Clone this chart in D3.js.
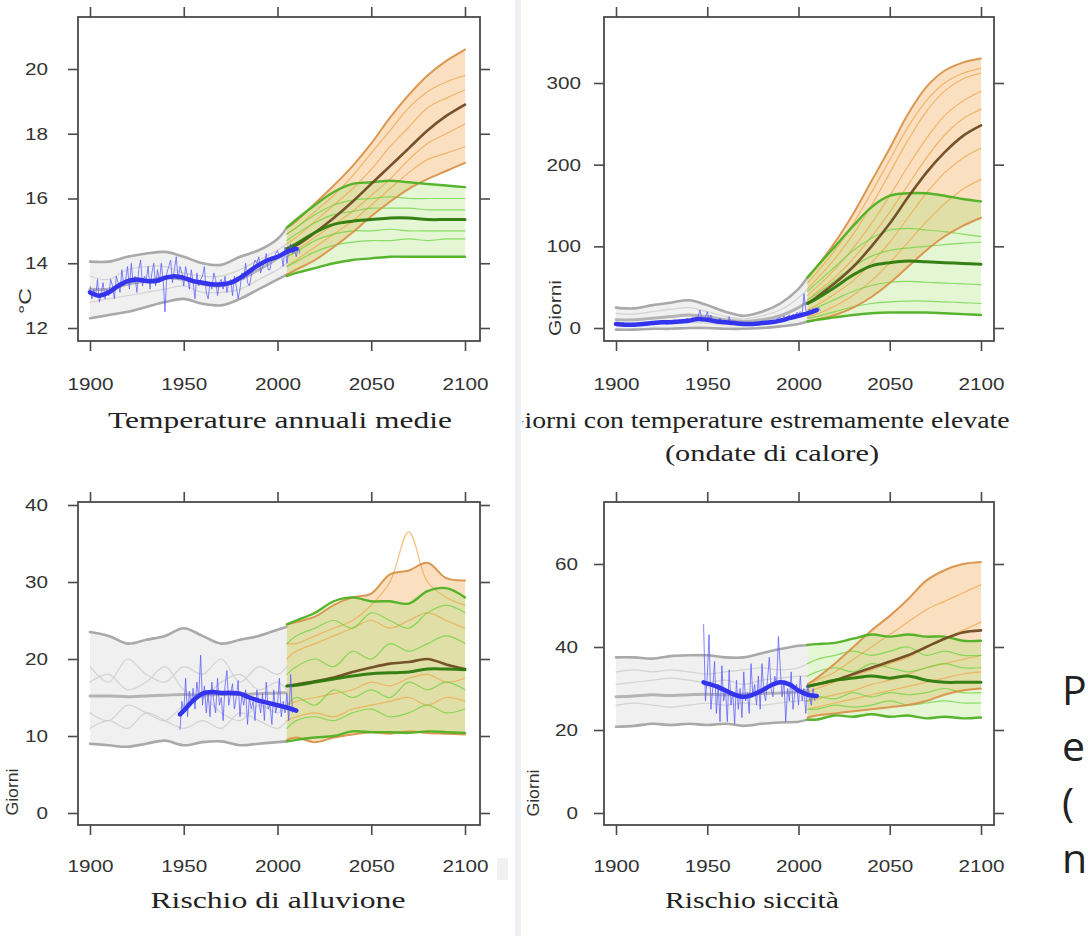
<!DOCTYPE html>
<html>
<head>
<meta charset="utf-8">
<script src="https://cdn.jsdelivr.net/npm/d3@7"></script>
<style>
  html, body { margin: 0; padding: 0; background: #fff; }
  svg { display: block; }
  .tick text { font-family: "Liberation Sans", Arial, sans-serif; fill: #333; }
  .title { font-family: "Liberation Serif", "Times New Roman", serif; fill: #222; }
</style>
</head>
<body>
<svg id="chart" width="1088" height="936"></svg>
<script>
// Shared year grids
const histYears = [1900, 1910, 1920, 1930, 1940, 1950, 1960, 1970, 1980, 1990, 2000, 2005];
const projYears = [2005, 2010, 2020, 2030, 2040, 2050, 2060, 2070, 2080, 2090, 2100];
const smoothYears = [1900, 1905, 1910, 1915, 1920, 1925, 1930, 1935, 1940, 1945, 1950, 1955,
                     1960, 1965, 1970, 1975, 1980, 1985, 1990, 1995, 2000, 2005, 2010];
const smoothYearsLate = [1948, 1950, 1955, 1960, 1965, 1970, 1975, 1980, 1985, 1990, 1995, 2000, 2005, 2010];
const xTicks = [1900, 1950, 2000, 2050, 2100];

// ---- Panel 1: Temperature annuali medie (°C)
const tempGrayHi = [14.05, 14.05, 14.2, 14.3, 14.35, 14.2, 14.0, 13.95, 14.2, 14.4, 14.75, 15.1];
const tempGrayLo = [12.3, 12.4, 12.5, 12.65, 12.8, 12.9, 12.75, 12.7, 12.9, 13.2, 13.5, 13.65];
const tempGrayMean = [13.2, 13.2, 13.35, 13.45, 13.55, 13.5, 13.35, 13.3, 13.5, 13.8, 14.15, 14.4];
const tempGrayMembers = [
  [13.6, 13.5, 13.8, 13.9, 13.9, 13.7, 13.6, 13.6, 13.8, 14.1, 14.4, 14.6],
  [12.8, 12.9, 13.0, 13.1, 13.2, 13.3, 13.1, 13.1, 13.2, 13.5, 13.8, 14.0]
];
const tempObsStart = 1900;
const tempObs = [
  13.3, 12.9, 13.2, 13.0, 13.5, 12.8, 13.1, 13.4, 12.9, 13.2,
  13.0, 13.5, 13.3, 12.9, 13.6, 13.4, 13.1, 13.8, 13.3, 13.5,
  13.9, 13.2, 14.0, 13.4, 13.6, 13.1, 13.8, 14.1, 13.3, 13.6,
  13.5, 13.9, 13.2, 13.7, 14.0, 13.3, 13.8, 13.4, 14.0, 13.5,
  12.5, 13.7, 13.9, 14.1, 13.4, 13.8, 14.2, 13.5, 13.9, 13.7,
  13.3, 13.9, 13.6, 13.2, 13.8, 13.4, 12.9, 13.7, 13.3, 13.5,
  13.6, 13.9, 13.1, 12.9, 13.4, 13.2, 13.7, 13.5, 13.0, 13.4,
  13.5, 13.2, 13.6, 13.1, 13.4, 13.5, 13.0, 13.6, 13.3, 12.9,
  13.2, 13.7, 13.5, 14.0, 13.4, 13.3, 13.6, 13.9, 14.1, 14.0,
  14.2, 13.7, 13.9, 14.0, 14.3, 13.8, 13.8, 14.2, 14.1, 14.3,
  14.4, 14.2, 14.3, 13.9, 14.5, 14.0, 14.4, 14.6, 14.3, 14.4, 14.2, 14.5, 14.3
];
const tempObsSmooth = [13.1, 13.0, 13.1, 13.3, 13.45, 13.5, 13.45, 13.45, 13.55, 13.6, 13.55, 13.45,
                       13.4, 13.35, 13.35, 13.4, 13.55, 13.75, 13.95, 14.1, 14.2, 14.35, 14.45];
const tempOrangeHi = [15.1, 15.3, 15.85, 16.4, 17.0, 17.7, 18.5, 19.2, 19.8, 20.25, 20.6];
const tempOrangeLo = [13.65, 13.8, 14.1, 14.5, 14.95, 15.45, 15.9, 16.3, 16.6, 16.85, 17.1];
const tempOrangeMean = [14.45, 14.55, 14.95, 15.4, 15.9, 16.45, 17.0, 17.55, 18.1, 18.55, 18.9];
const tempOrangeMembers = [
  [14.9, 15.1, 15.6, 16.1, 16.7, 17.4, 18.1, 18.8, 19.3, 19.6, 19.8],
  [14.6, 14.8, 15.3, 15.8, 16.3, 16.9, 17.6, 18.2, 18.8, 19.1, 19.35],
  [14.2, 14.4, 14.8, 15.2, 15.6, 16.1, 16.6, 17.2, 17.7, 18.0, 18.3],
  [13.9, 14.1, 14.5, 14.9, 15.3, 15.8, 16.3, 16.8, 17.2, 17.4, 17.6]
];
const tempGreenHi = [15.1, 15.35, 15.8, 16.2, 16.45, 16.5, 16.55, 16.5, 16.45, 16.4, 16.35];
const tempGreenLo = [13.6, 13.7, 13.85, 14.0, 14.1, 14.15, 14.2, 14.2, 14.2, 14.2, 14.2];
const tempGreenMean = [14.45, 14.6, 14.95, 15.2, 15.3, 15.35, 15.4, 15.4, 15.35, 15.35, 15.35];
const tempGreenMembers = [
  [14.9, 15.1, 15.5, 15.8, 15.95, 16.0, 16.05, 16.0, 16.0, 16.0, 16.0],
  [14.7, 14.9, 15.25, 15.5, 15.6, 15.7, 15.7, 15.7, 15.65, 15.65, 15.65],
  [14.2, 14.35, 14.7, 14.9, 15.0, 15.0, 15.05, 15.0, 15.0, 15.0, 15.0],
  [13.9, 14.05, 14.35, 14.55, 14.65, 14.7, 14.7, 14.75, 14.7, 14.75, 14.75]
];

// ---- Panel 2: Giorni con temperature estremamente elevate
const heatGrayHi = [25, 24, 28, 31, 34, 28, 20, 15, 20, 30, 48, 62];
const heatGrayLo = [-2, -2, -1, -1, 0, 0, -1, -1, 0, 2, 5, 8];
const heatGrayMean = [10, 10, 12, 14, 16, 14, 10, 8, 10, 15, 25, 32];
const heatGrayMembers = [
  [18, 17, 20, 23, 25, 20, 14, 11, 15, 22, 37, 48],
  [4, 4, 5, 6, 7, 6, 4, 3, 5, 8, 14, 18]
];
const heatObsStart = 1900;
const heatObs = [
  6, 3, 5, 4, 7, 2, 5, 4, 3, 6,
  4, 5, 3, 6, 4, 5, 7, 3, 5, 6,
  5, 7, 4, 6, 8, 5, 6, 9, 4, 7,
  8, 6, 10, 7, 9, 8, 11, 7, 9, 12,
  10, 8, 13, 9, 11, 14, 22, 12, 9, 13,
  20, 10, 16, 8, 11, 9, 7, 12, 6, 9,
  7, 5, 14, 6, 4, 8, 5, 6, 4, 7,
  5, 4, 6, 3, 5, 7, 4, 6, 5, 8,
  6, 5, 8, 7, 9, 6, 10, 8, 11, 12,
  13, 10, 15, 12, 14, 16, 13, 17, 15, 19,
  18, 20, 17, 42, 22, 19, 23, 20, 24, 21, 22, 25, 21
];
const heatObsSmooth = [5, 4, 4, 5, 6, 7, 7, 8, 9, 11, 10, 8, 7, 6, 5, 5, 6, 7, 9, 12, 15, 18, 22];
const heatOrangeHi = [62, 75, 105, 140, 180, 220, 262, 295, 315, 325, 330];
const heatOrangeLo = [8, 10, 16, 25, 38, 55, 75, 95, 112, 125, 135];
const heatOrangeMean = [30, 38, 55, 75, 100, 128, 160, 190, 215, 235, 248];
const heatOrangeMembers = [
  [55, 68, 95, 128, 166, 206, 246, 278, 300, 312, 318],
  [48, 60, 85, 115, 150, 190, 230, 265, 290, 305, 312],
  [40, 50, 72, 98, 128, 162, 198, 232, 260, 278, 290],
  [34, 44, 62, 85, 112, 142, 175, 208, 236, 256, 268],
  [22, 28, 42, 58, 80, 105, 135, 165, 190, 208, 220],
  [14, 17, 27, 40, 58, 80, 105, 130, 152, 170, 182]
];
const heatGreenHi = [62, 75, 100, 125, 148, 162, 165, 165, 162, 158, 155];
const heatGreenLo = [8, 10, 13, 16, 18, 19, 19, 19, 18, 17, 16];
const heatGreenMean = [30, 36, 50, 65, 76, 80, 82, 81, 80, 79, 78];
const heatGreenMembers = [
  [45, 55, 75, 95, 110, 120, 122, 120, 118, 115, 112],
  [35, 42, 58, 75, 88, 95, 98, 100, 102, 104, 105],
  [20, 25, 35, 45, 52, 56, 57, 56, 55, 54, 53],
  [12, 14, 20, 26, 30, 32, 33, 33, 32, 31, 30]
];

// ---- Panel 3: Rischio di alluvione (giorni)
const floodGrayHi = [23.5, 23, 22, 22.5, 23, 24, 23, 22, 22.5, 23, 23.8, 24.2];
const floodGrayLo = [9, 8.8, 8.6, 9, 9.4, 8.8, 9.2, 9.3, 8.8, 9, 9.2, 9.3];
const floodGrayMean = [15.2, 15.2, 15.1, 15.2, 15.3, 15.4, 15.3, 15.4, 15.4, 15.5, 15.6, 15.6];
const floodGrayMembers = [
  [17, 18, 16, 17, 19, 16, 15, 17, 18, 16, 17, 16],
  [13, 12, 14, 13, 12, 14, 15, 13, 12, 14, 13, 14],
  [19, 17, 20, 18, 17, 19, 18, 20, 17, 19, 18, 19],
  [11, 12, 11, 13, 12, 11, 12, 11, 13, 12, 11, 12]
];
const floodObsStart = 1948;
const floodObs = [
  10.8, 14.5, 13.0, 17.5, 12.5, 15.8, 14.0, 16.2, 13.5, 17.0,
  15.0, 20.5, 14.0, 16.5, 13.0, 15.5, 12.5, 17.0, 14.5, 13.0,
  17.5, 14.0, 15.0, 12.0, 16.5, 18.5, 14.0, 15.5, 16.8, 13.5,
  15.0, 17.2, 12.5, 15.5, 14.0, 16.0, 11.5, 15.0, 13.5, 14.5,
  12.0, 16.0, 14.5, 13.0, 15.5, 12.0, 17.0, 13.5, 14.0, 11.5,
  16.0, 13.0, 14.0, 17.5, 12.5, 14.5, 13.0, 15.5, 12.0, 18.0, 13.0
];
const floodObsSmooth = [12.8, 13.3, 14.6, 15.5, 15.7, 15.6, 15.6, 15.5, 15.0, 14.6, 14.3, 14.0, 13.7, 13.3];
const floodOrangeHi = [24.5, 24.8, 25.5, 27, 28, 28.5, 31, 31.5, 32.5, 30.5, 30.2];
const floodOrangeLo = [9.5, 9.8, 9.2, 9.8, 10.2, 10.5, 10.3, 10.6, 10.4, 10.3, 10.2];
const floodOrangeMean = [16.5, 16.7, 17.1, 17.6, 18.3, 18.9, 19.4, 19.6, 20.0, 19.3, 18.7];
const floodOrangeMembers = [
  [20, 21, 22, 23, 24, 25, 24, 25, 26, 25, 24],
  [14, 14.5, 15, 15.5, 16, 17, 16.5, 17.5, 18, 17, 17.5],
  [12, 12.5, 13, 12.5, 13.5, 14, 14.5, 15, 14, 15, 14.5],
  [22, 22, 23, 24, 25, 27, 30, 36.5, 30, 28, 27]
];
const floodGreenHi = [24.5, 25, 26, 27.5, 28, 27.5, 27.5, 27.2, 28.8, 29.2, 28];
const floodGreenLo = [9.3, 9.5, 9.8, 10.0, 10.6, 10.5, 10.5, 10.4, 10.6, 10.5, 10.4];
const floodGreenMean = [16.5, 16.6, 17, 17.4, 17.8, 18.1, 18.2, 18.3, 18.7, 18.7, 18.6];
const floodGreenMembers = [
  [22, 23, 24, 25, 24, 26, 25, 24, 26, 27, 26],
  [18, 19, 20, 19, 21, 20, 22, 21, 22, 23, 22],
  [14, 15, 14, 16, 15, 16, 15, 17, 16, 17, 16],
  [11, 12, 12.5, 12, 13, 13.5, 12.5, 13, 14, 13, 13.5]
];

// ---- Panel 4: Rischio siccità (giorni)
const dryGrayHi = [37.5, 37.5, 37.2, 37.8, 38, 38, 37.5, 37.5, 38.5, 39.5, 40.3, 40.5];
const dryGrayLo = [20.8, 21, 21.5, 21.2, 21.5, 21.2, 21.5, 21, 21.5, 21.8, 22, 22.5];
const dryGrayMean = [28, 28.2, 28.5, 28.3, 28.5, 28.6, 28.5, 28.7, 28.8, 28.9, 29.2, 29.5];
const dryGrayMembers = [
  [31, 31.5, 32, 32.5, 32, 31.5, 32, 31, 32, 32.5, 33, 33],
  [26, 26.5, 26, 25.5, 26, 26.5, 26, 26.5, 26, 26.5, 27, 27],
  [34, 34.5, 34, 34.5, 34, 33.5, 34, 34.5, 35, 34.5, 35, 36]
];
const dryObsStart = 1948;
const dryObs = [
  45.5, 27, 33, 43, 25, 30, 36.5, 24, 31, 22,
  35.5, 27, 30, 22, 34.5, 26, 29, 21.5, 32, 25,
  30, 23, 34, 27, 29, 24, 36, 28, 31, 26,
  33, 25, 36, 29, 27, 32, 37.5, 30, 28, 33,
  31, 42.5, 35, 28, 32, 22, 30, 27, 34, 25,
  29, 31, 26, 33, 27, 30, 24, 31, 28, 26, 30, 27
];
const dryObsSmooth = [31.5, 31.2, 30.5, 29.5, 28.5, 28.0, 28.5, 29.5, 30.8, 31.5, 31.0, 29.5, 28.5, 28.2];
const dryOrangeHi = [31, 32.5, 36, 40, 44, 47.5, 51.5, 56, 58.5, 60, 60.5];
const dryOrangeLo = [23, 23.5, 24, 24.5, 25, 25.5, 26, 27, 28.5, 29.5, 30];
const dryOrangeMean = [30.5, 31, 32, 33.5, 35, 36.5, 38, 40, 42, 43.5, 44];
const dryOrangeMembers = [
  [31, 32, 34, 37, 40, 43, 46, 49, 51, 53, 55],
  [29, 30, 31.5, 33, 34.5, 36, 37.5, 40, 42, 44, 46],
  [27, 27.5, 28.5, 29.5, 31, 32, 33.5, 35, 36, 37, 38],
  [25, 25.5, 26.5, 27.5, 28.5, 29.5, 30.5, 31.5, 32.5, 33.5, 34]
];
const dryGreenHi = [40.5, 40.7, 41, 42, 43, 42.5, 43, 42.5, 42.5, 41.5, 41.5];
const dryGreenLo = [22.5, 22.5, 23.5, 23.2, 23.8, 23.2, 23.5, 22.8, 23.2, 22.8, 23];
const dryGreenMean = [30.5, 31, 32, 32.5, 33, 32.5, 33, 32, 31.5, 31.5, 31.5];
const dryGreenMembers = [
  [36, 37, 38, 39, 38, 39, 40, 38, 39, 38, 38],
  [33, 34, 35, 34, 36, 35, 34, 35, 36, 35, 35],
  [27, 28, 27.5, 29, 28, 29, 28.5, 29, 30, 29, 29],
  [25, 25, 26, 25.5, 26, 27, 26, 26.5, 27, 26.5, 26.5]
];

// Right-hand slide text (only the first letters show at the page edge)
const sideLines = ["P", "e", "(", "n"];

const svg = d3.select("#chart");

// Light divider between the two screenshots
svg.append("rect").attr("x", 515).attr("y", 0).attr("width", 6).attr("height", 936).attr("fill", "#edf1f6");
svg.append("rect").attr("x", 497).attr("y", 858).attr("width", 11).attr("height", 22).attr("fill", "#f1f1f1");

const panels = [
  {
    frame: [78, 17, 480, 341], xr: [90, 465], yd: [12, 20], yr: [328, 69],
    yTicks: [12, 14, 16, 18, 20], leftPad: 20, bottomPad: 27,
    ylab: "°C", ylabPos: [25, 301], ylabLen: 26,
    gray: { hi: tempGrayHi, lo: tempGrayLo, mean: tempGrayMean, members: tempGrayMembers },
    obs: { start: tempObsStart, values: tempObs, smoothYears: smoothYears, smooth: tempObsSmooth },
    orange: { hi: tempOrangeHi, lo: tempOrangeLo, mean: tempOrangeMean, members: tempOrangeMembers },
    green: { hi: tempGreenHi, lo: tempGreenLo, mean: tempGreenMean, members: tempGreenMembers }
  },
  {
    frame: [604, 17, 994, 341], xr: [616, 981], yd: [0, 300], yr: [328, 83],
    yTicks: [0, 100, 200, 300], leftPad: 13, bottomPad: 27,
    ylab: "Giorni", ylabPos: [555, 308], ylabLen: 56,
    gray: { hi: heatGrayHi, lo: heatGrayLo, mean: heatGrayMean, members: heatGrayMembers },
    obs: { start: heatObsStart, values: heatObs, smoothYears: smoothYears, smooth: heatObsSmooth },
    orange: { hi: heatOrangeHi, lo: heatOrangeLo, mean: heatOrangeMean, members: heatOrangeMembers },
    green: { hi: heatGreenHi, lo: heatGreenLo, mean: heatGreenMean, members: heatGreenMembers }
  },
  {
    frame: [78, 502, 480, 825], xr: [90, 465], yd: [0, 40], yr: [813, 505],
    yTicks: [0, 10, 20, 30, 40], leftPad: 20, bottomPad: 25,
    ylab: "Giorni", ylabPos: [12, 792], ylabLen: 47,
    gray: { hi: floodGrayHi, lo: floodGrayLo, mean: floodGrayMean, members: floodGrayMembers },
    obs: { start: floodObsStart, values: floodObs, smoothYears: smoothYearsLate, smooth: floodObsSmooth },
    orange: { hi: floodOrangeHi, lo: floodOrangeLo, mean: floodOrangeMean, members: floodOrangeMembers },
    green: { hi: floodGreenHi, lo: floodGreenLo, mean: floodGreenMean, members: floodGreenMembers }
  },
  {
    frame: [604, 502, 994, 825], xr: [616, 981], yd: [0, 60], yr: [813, 564],
    yTicks: [0, 20, 40, 60], leftPad: 16, bottomPad: 25,
    ylab: "Giorni", ylabPos: [533, 793], ylabLen: 47,
    gray: { hi: dryGrayHi, lo: dryGrayLo, mean: dryGrayMean, members: dryGrayMembers },
    obs: { start: dryObsStart, values: dryObs, smoothYears: smoothYearsLate, smooth: dryObsSmooth },
    orange: { hi: dryOrangeHi, lo: dryOrangeLo, mean: dryOrangeMean, members: dryOrangeMembers },
    green: { hi: dryGreenHi, lo: dryGreenLo, mean: dryGreenMean, members: dryGreenMembers }
  }
];

function drawPanel(p) {
  const x = d3.scaleLinear().domain([1900, 2100]).range(p.xr);
  const y = d3.scaleLinear().domain(p.yd).range(p.yr);
  const [fx0, fy0, fx1, fy1] = p.frame;
  const g = svg.append("g");

  const lineOf = years => d3.line()
    .x((d, i) => x(years[i]))
    .y(d => y(d))
    .curve(d3.curveCatmullRom);
  const bandOf = (years, lo) => d3.area()
    .x((d, i) => x(years[i]))
    .y0((d, i) => y(lo[i]))
    .y1(d => y(d))
    .curve(d3.curveCatmullRom);

  function addLine(years, values, color, width, opacity) {
    g.append("path")
      .attr("d", lineOf(years)(values))
      .attr("fill", "none")
      .attr("stroke", color)
      .attr("stroke-width", width)
      .attr("stroke-opacity", opacity)
      .attr("stroke-linejoin", "round")
      .attr("stroke-linecap", "round");
  }

  // Historical model runs (grey)
  g.append("path").attr("d", bandOf(histYears, p.gray.lo)(p.gray.hi))
    .attr("fill", "#ededed").attr("fill-opacity", 0.85);
  p.gray.members.forEach(m => addLine(histYears, m, "#cfcfcf", 1.2, 0.9));
  addLine(histYears, p.gray.mean, "#b4b4b4", 3, 1);
  addLine(histYears, p.gray.hi, "#a9a9a9", 2.6, 1);
  addLine(histYears, p.gray.lo, "#a9a9a9", 2.6, 1);

  // Scenario envelopes
  g.append("path").attr("d", bandOf(projYears, p.orange.lo)(p.orange.hi))
    .attr("fill", "#f6c48c").attr("fill-opacity", 0.55);
  g.append("path").attr("d", bandOf(projYears, p.green.lo)(p.green.hi))
    .attr("fill", "#a6e070").attr("fill-opacity", 0.3);

  p.orange.members.forEach(m => addLine(projYears, m, "#eda444", 1.2, 0.7));
  p.green.members.forEach(m => addLine(projYears, m, "#62d234", 1.2, 0.7));

  addLine(projYears, p.orange.hi, "#d9924a", 2, 0.95);
  addLine(projYears, p.orange.lo, "#d9924a", 2, 0.95);
  addLine(projYears, p.green.hi, "#4fb023", 2.4, 0.95);
  addLine(projYears, p.green.lo, "#4fb023", 2.4, 0.95);
  addLine(projYears, p.orange.mean, "#6f4a22", 2.6, 0.95);
  addLine(projYears, p.green.mean, "#2c7a0c", 3, 0.95);

  // Observations (annual + smoothed)
  const obsYears = p.obs.values.map((d, i) => p.obs.start + i);
  g.append("path")
    .attr("d", d3.line().x((d, i) => x(obsYears[i])).y(d => y(d))(p.obs.values))
    .attr("fill", "none").attr("stroke", "#5a5aff").attr("stroke-width", 1).attr("stroke-opacity", 0.75);
  addLine(p.obs.smoothYears, p.obs.smooth, "#3434ee", 4.5, 1);

  // Frame
  g.append("rect")
    .attr("x", fx0).attr("y", fy0)
    .attr("width", fx1 - fx0).attr("height", fy1 - fy0)
    .attr("fill", "none").attr("stroke", "#4a4a4a").attr("stroke-width", 1.8);

  // Ticks on all four sides, labels on left and bottom
  const styleAxis = sel => {
    sel.select(".domain").remove();
    sel.selectAll(".tick line").attr("stroke", "#4a4a4a").attr("stroke-width", 1.6);
  };
  g.append("g").attr("transform", `translate(0,${fy1})`)
    .call(d3.axisBottom(x).tickValues(xTicks).tickSize(10).tickPadding(p.bottomPad).tickFormat(d3.format("d")))
    .call(styleAxis)
    .call(s => s.selectAll("text").attr("font-size", 17).attr("textLength", 46).attr("lengthAdjust", "spacingAndGlyphs"));
  g.append("g").attr("transform", `translate(0,${fy0})`)
    .call(d3.axisTop(x).tickValues(xTicks).tickSize(10).tickFormat(""))
    .call(styleAxis);
  g.append("g").attr("transform", `translate(${fx0},0)`)
    .call(d3.axisLeft(y).tickValues(p.yTicks).tickSize(10).tickPadding(p.leftPad).tickFormat(d3.format("d")))
    .call(styleAxis)
    .call(s => s.selectAll("text").attr("font-size", 17)
      .attr("textLength", d => String(d).length * 11.5).attr("lengthAdjust", "spacingAndGlyphs"));
  g.append("g").attr("transform", `translate(${fx1},0)`)
    .call(d3.axisRight(y).tickValues(p.yTicks).tickSize(10).tickFormat(""))
    .call(styleAxis);

  // Y axis title
  g.append("text")
    .attr("transform", `translate(${p.ylabPos[0]},${p.ylabPos[1]}) rotate(-90)`)
    .attr("text-anchor", "middle").attr("dy", "0.35em")
    .attr("font-family", "Liberation Sans, Arial, sans-serif")
    .attr("font-size", 17).attr("fill", "#333")
    .attr("textLength", p.ylabLen).attr("lengthAdjust", "spacingAndGlyphs")
    .text(p.ylab);
}

panels.forEach(drawPanel);

// Panel titles (serif, below each plot)
const titles = [
  { text: "Temperature annuali medie", x: 280, y: 428, len: 344 },
  { text: "Giorni con temperature estremamente elevate", x: 757, y: 428, len: 505, clip: true },
  { text: "(ondate di calore)", x: 772, y: 461, len: 214 },
  { text: "Rischio di alluvione", x: 278, y: 908, len: 255 },
  { text: "Rischio siccità", x: 752, y: 908, len: 174 }
];
svg.append("clipPath").attr("id", "rightHalf")
  .append("rect").attr("x", 522).attr("y", 0).attr("width", 566).attr("height", 936);
svg.selectAll("text.title")
  .data(titles)
  .enter().append("text")
  .attr("class", "title")
  .attr("x", d => d.x).attr("y", d => d.y)
  .attr("text-anchor", "middle")
  .attr("font-size", 24)
  .attr("textLength", d => d.len).attr("lengthAdjust", "spacingAndGlyphs")
  .attr("clip-path", d => d.clip ? "url(#rightHalf)" : null)
  .text(d => d.text);

// Slide text on the right edge
svg.selectAll("text.side")
  .data(sideLines)
  .enter().append("text")
  .attr("class", "side")
  .attr("x", 1062)
  .attr("y", (d, i) => 705 + i * 56)
  .attr("font-family", "Open Sans, Noto Sans, sans-serif")
  .attr("font-size", 41)
  .attr("fill", "#222")
  .text(d => d);
</script>
</body>
</html>
